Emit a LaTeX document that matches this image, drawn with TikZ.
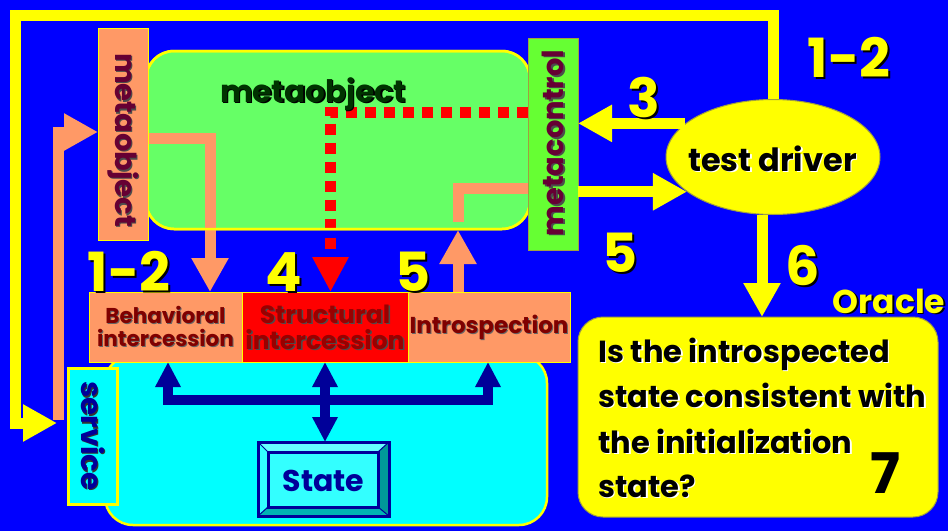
\documentclass[tikz,border=0pt]{standalone}
\usepackage{fontspec}
\setmainfont{Poppins}
\usetikzlibrary{arrows.meta,shapes.geometric}
\definecolor{bgblue}{HTML}{0000FF}
\definecolor{sunyellow}{HTML}{FFFF00}
\definecolor{salmon}{HTML}{FF9966}
\definecolor{metagreen}{HTML}{66FF66}
\definecolor{ctlgreen}{HTML}{66FF33}
\definecolor{brightred}{HTML}{FF0000}
\definecolor{aqua}{HTML}{00FFFF}
\definecolor{navy}{HTML}{000099}
\definecolor{maroon}{HTML}{660033}
\definecolor{darkred}{HTML}{800000}
\definecolor{midred}{HTML}{990000}
\definecolor{deepgreen}{HTML}{003300}
\definecolor{edgegray}{HTML}{A0A040}
\definecolor{bevellight}{HTML}{66FFFF}
\definecolor{bevelmid}{HTML}{33FFFF}
\definecolor{beveldark}{HTML}{009999}
\definecolor{bevelshade}{HTML}{00B3B3}

% text with a drop shadow: name, position, options, shadow colour, offset, text
\newcommand{\shadowed}[6]{%
  \node[#3,text=#4] (#1s) at ([xshift=#5,yshift=-#5]#2) {#6};
  \node[#3] (#1) at (#2) {#6};}

\begin{document}
\begin{tikzpicture}[x=1pt,y=-1pt,
  ytip/.tip={Triangle[width=35pt,length=34pt]},
  ntip/.tip={Triangle[width=24pt,length=25pt]},
  flow/.style={line width=11pt,line join=miter},
  yflow/.style={flow,draw=sunyellow},
  sflow/.style={flow,draw=salmon},
  nflow/.style={line width=10pt,draw=navy,line join=miter},
  panel/.style={draw,rectangle,inner sep=0pt,outer sep=0pt},
  num/.style={font=\fontsize{54}{54}\selectfont\bfseries,text=sunyellow,anchor=base,inner sep=0pt},
  boxtext/.style={font=\fontsize{21.5}{23}\selectfont\bfseries,align=center,inner sep=0pt},
  vtext/.style={font=\fontsize{29}{29}\selectfont\bfseries,inner sep=0pt,anchor=center},
  qtext/.style={font=\fontsize{30.5}{30.5}\selectfont\bfseries,anchor=base west,inner sep=0pt},
]
\useasboundingbox (0,0) rectangle (948,531);
\fill[bgblue] (0,0) rectangle (948,531);

% main boxes
\node[panel,fill=metagreen,draw=sunyellow,line width=2.5pt,rounded corners=28pt,
      minimum width=384pt,minimum height=178pt] (mo) at (338,140) {};
\node[panel,fill=aqua,draw=sunyellow,line width=2.5pt,rounded corners=28pt,
      minimum width=442pt,minimum height=170pt] (svcarea) at (326,440) {};
\node[panel,fill=salmon,draw=sunyellow,line width=1pt,
      minimum width=50pt,minimum height=212pt] (mobox) at (123,134) {};
\node[panel,fill=ctlgreen,draw=edgegray,line width=1pt,
      minimum width=50pt,minimum height=212pt] (mctl) at (553,144) {};
\node[panel,fill=salmon,draw=sunyellow,line width=1pt,
      minimum width=153pt,minimum height=70pt] (beh) at (165.5,327) {};
\node[panel,fill=brightred,draw=sunyellow,line width=1pt,
      minimum width=166pt,minimum height=70pt] (struct) at (325,327) {};
\node[panel,fill=salmon,draw=sunyellow,line width=1pt,
      minimum width=162pt,minimum height=70pt] (intro) at (489,327) {};
\node[panel,fill=aqua,draw=sunyellow,line width=3pt,
      minimum width=49pt,minimum height=136pt] (svc) at (92.5,436) {};
\node[panel,fill=sunyellow,draw=edgegray,line width=1pt,rounded corners=25pt,
      minimum width=360pt,minimum height=200pt] (oracle) at (758,417) {};
\node[draw=edgegray,fill=sunyellow,ellipse,line width=1pt,inner sep=0pt,
      minimum width=214pt,minimum height=115pt] (driver) at (773,157) {};

% State box with bevelled frame
\node[panel,draw=none,minimum width=131pt,minimum height=74pt] (state) at (323.5,479) {};
\fill[bevellight] (258,442) -- (389,442) -- (378,452) -- (268,452) -- cycle;
\fill[bevelmid] (258,442) -- (268,452) -- (268,507) -- (258,516) -- cycle;
\fill[beveldark] (389,442) -- (389,516) -- (378,507) -- (378,452) -- cycle;
\fill[bevelshade] (258,516) -- (389,516) -- (378,507) -- (268,507) -- cycle;
\fill[bevelmid] (268,452) rectangle (378,507);
\draw[navy,line width=1pt] (258,442) -- (268,452) (389,442) -- (378,452)
      (258,516) -- (268,507) (389,516) -- (378,507);
\draw[navy,line width=3pt] (258,442) rectangle (389,516) (268,452) rectangle (378,507);

% outer loop from the test driver round to the service
\coordinate (lt) at (15.5,15.5);
\coordinate (lb) at (15.5,423);
\coordinate (lend) at (57,423);
\draw[yflow,-{ytip}] (driver.north) |- (lt) -- (lb) -- (lend);

% service back up into the metaobject
\coordinate (sb) at (58,420);
\coordinate (sk) at (58,132);
\draw[sflow,-{ytip}] (sb) -- (sk) -- (mobox.west |- sk);

% metaobject down to behavioral intercession
\coordinate (m1) at (210,138);
\draw[sflow,-{ytip}] (mobox.east |- m1) -| (beh.north -| m1);

% introspection up to metacontrol
\coordinate (i1) at (458,230);
\coordinate (i2) at (458,222);
\coordinate (i3) at (458,188);
\draw[sflow,-{ytip}] (intro.north -| i1) -- (i1);
\draw[sflow] (i2) -- (i3) -- (mctl.west |- i3);

% metacontrol to structural intercession (dotted)
\coordinate (r1) at (330.5,112);
\coordinate (r2) at (330.5,258);
\draw[draw=brightred,line width=11pt,dash pattern=on 11pt off 8pt] (mctl.west |- r1) -- (r1) -- (r2);
\draw[draw=brightred,line width=11pt,-{Triangle[width=34pt,length=35pt]}] (r2) -- (struct.north -| r2);

% redraw the rim of the metaobject over the links
\node[panel,draw=sunyellow,line width=2.5pt,rounded corners=28pt,
      minimum width=384pt,minimum height=178pt] (morim) at (338,140) {};
\node[panel,fill=salmon,draw=sunyellow,line width=1pt,
      minimum width=50pt,minimum height=212pt] (mobox2) at (123,134) {};
\node[panel,fill=ctlgreen,draw=edgegray,line width=1pt,
      minimum width=50pt,minimum height=212pt] (mctl2) at (553,144) {};

% test driver links
\draw[yflow,-{ytip}] (driver.159) -- (mctl.east |- driver.159);
\draw[yflow,-{ytip}] (mctl.east |- driver.202) -- (driver.202);
\coordinate (o6) at (762,0);
\draw[yflow,-{ytip}] (driver.south -| o6) -- (oracle.north -| o6);

% state access links
\coordinate (a1) at (168,400);
\coordinate (a2) at (488,400);
\coordinate (a3) at (325,400);
\draw[nflow,{ntip}-{ntip}] (beh.south -| a1) -- (a1) -- (a2) -- (intro.south -| a2);
\draw[nflow,{ntip}-{ntip}] (struct.south -| a3) -- (state.north -| a3);

% labels
\shadowed{tmo}{313,102}{font=\fontsize{31}{31}\selectfont\bfseries,text=deepgreen,anchor=base,inner sep=0pt}{black}{1.5pt}{metaobject}
\shadowed{tmobox}{123,140}{vtext,rotate=-90,text=maroon}{black!70}{1.5pt}{metaobject}
\shadowed{tmctl}{553,143}{vtext,rotate=90,text=maroon}{black!70}{1.5pt}{metacontrol}
\shadowed{tsvc}{92.5,436}{vtext,rotate=-90,text=navy}{black!80}{1.5pt}{service}
\shadowed{tbeh}{165.5,326}{boxtext,text=darkred}{black!60}{1pt}{Behavioral\\intercession}
\shadowed{tstr}{325,327}{boxtext,font=\fontsize{25}{26}\selectfont\bfseries,text=midred}{black!70}{1.5pt}{Structural\\intercession}
\shadowed{tint}{489,327}{boxtext,font=\fontsize{23}{23}\selectfont\bfseries,text=darkred}{black!60}{1pt}{Introspection}
\node[font=\fontsize{30}{30}\selectfont\bfseries,text=navy,inner sep=0pt] (tstate) at (323.5,481) {State};
\shadowed{tdrv}{772.5,171}{font=\fontsize{32}{32}\selectfont\bfseries,anchor=base,inner sep=0pt}{white}{1.5pt}{test driver}
\shadowed{tq1}{598,362}{qtext}{white}{1.5pt}{Is the introspected}
\shadowed{tq2}{598,407}{qtext}{white}{1.5pt}{state consistent with}
\shadowed{tq3}{598,453}{qtext}{white}{1.5pt}{the initialization}
\shadowed{tq4}{598,497}{qtext}{white}{1.5pt}{state?}
\node[font=\fontsize{56}{56}\selectfont\bfseries,anchor=base,inner sep=0pt] (t7) at (885,493) {7};
\shadowed{tora}{889,313}{font=\fontsize{33}{33}\selectfont\bfseries,text=sunyellow,anchor=base,inner sep=0pt}{black}{1.5pt}{Oracle}
\shadowed{n12a}{849,77}{num}{black}{2pt}{1-2}
\shadowed{n3}{644,117}{num}{black}{2pt}{3}
\shadowed{n5a}{620,272}{num}{black}{2pt}{5}
\shadowed{n6}{803,285}{num}{black}{2pt}{6}
\shadowed{n12b}{129,291}{num}{black}{2pt}{1-2}
\shadowed{n4}{284,291}{num}{black}{2pt}{4}
\shadowed{n5b}{413,291}{num}{black}{2pt}{5}
\end{tikzpicture}
\end{document}
